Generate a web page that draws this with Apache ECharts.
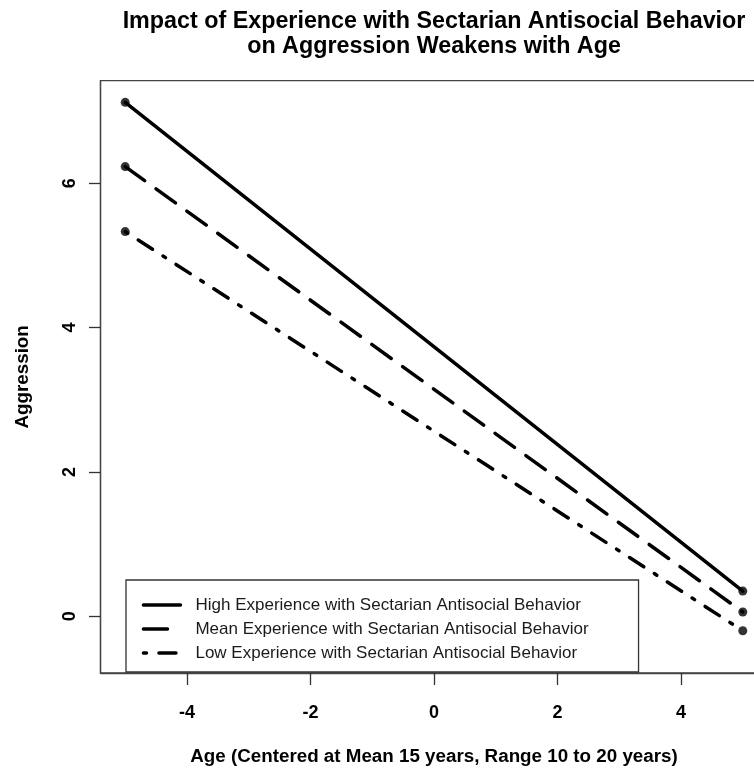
<!DOCTYPE html>
<html>
<head>
<meta charset="utf-8">
<script src="https://cdn.jsdelivr.net/npm/echarts@6/dist/echarts.min.js"></script>
<style>html,body{margin:0;padding:0;background:#fff;overflow:hidden;width:754px;height:771px;}#chart{width:772px;height:771px;}</style>
</head>
<body>
<div id="chart"></div>
<script>
const xValues = [-5, 5];
const highValues = [7.12, 0.35];
const meanValues = [6.23, 0.06];
const lowValues = [5.33, -0.20];
const seriesNames = [
  'High Experience with Sectarian Antisocial Behavior',
  'Mean Experience with Sectarian Antisocial Behavior',
  'Low Experience with Sectarian Antisocial Behavior'
];
const xTickLabels = [-4, -2, 0, 2, 4];
const yTickLabels = [0, 2, 4, 6];

const FONT = 'Liberation Sans, Arial, sans-serif';
const valueSets = [highValues, meanValues, lowValues];
const dashes = ['solid', [24, 14], [3, 12.5, 17, 12.5]];

const lineSeries = valueSets.map((vals, i) => ({
  name: seriesNames[i],
  type: 'line',
  data: xValues.map((x, j) => [x, vals[j]]),
  symbol: 'none',
  silent: true,
  lineStyle: { color: '#000', width: 3.5, type: dashes[i], cap: 'round' },
  itemStyle: { color: '#000' },
  z: 3
}));
const pointSeries = valueSets.map((vals, i) => ({
  name: seriesNames[i] + ' points',
  type: 'scatter',
  data: xValues.map((x, j) => [x, vals[j]]),
  symbol: 'circle',
  symbolSize: 9,
  silent: true,
  itemStyle: { color: '#000' },
  z: 4
}));

const chart = echarts.init(document.getElementById('chart'), null, { renderer: 'canvas' });
chart.setOption({
  animation: false,
  backgroundColor: '#fff',
  title: {
    text: 'Impact of Experience with Sectarian Antisocial Behavior\non Aggression Weakens with Age',
    left: 434, top: 9, padding: 0,
    textAlign: 'center',
    textStyle: { fontFamily: FONT, fontWeight: 'bold', fontSize: 23.3, lineHeight: 25, color: '#000' }
  },
  grid: {
    left: 100.5, top: 80.7, width: 667, height: 592.8,
    show: true, borderColor: '#444', borderWidth: 1.3, backgroundColor: 'transparent'
  },
  legend: {
    data: seriesNames,
    orient: 'vertical',
    left: 126, top: 580,
    padding: [13, 50, 7, 15.7],
    itemGap: 0,
    itemWidth: 37, itemHeight: 14,
    borderColor: '#333', borderWidth: 1.3,
    backgroundColor: '#fff',
    selectedMode: false,
    itemStyle: { opacity: 0 },
    lineStyle: { width: 3.5, cap: 'round' },
    textStyle: { fontFamily: FONT, fontSize: 17, lineHeight: 24, color: '#1a1a1a', padding: [0, 0, 0, 10] }
  },
  xAxis: {
    type: 'value', min: -5.4, max: 5.4,
    name: 'Age (Centered at Mean 15 years, Range 10 to 20 years)',
    nameLocation: 'middle', nameGap: 74,
    nameTextStyle: { fontFamily: FONT, fontWeight: 'bold', fontSize: 18.8, color: '#000' },
    axisLine: { show: true, onZero: false, lineStyle: { color: '#444', width: 1.3 } },
    splitLine: { show: false },
    axisTick: { show: true, length: 12, customValues: xTickLabels, lineStyle: { color: '#333', width: 1.3 } },
    axisLabel: { customValues: xTickLabels, margin: 31, fontFamily: FONT, fontWeight: 'bold', fontSize: 18, color: '#000' }
  },
  yAxis: {
    type: 'value', min: -0.785, max: 7.42,
    name: 'Aggression',
    nameLocation: 'middle', nameGap: 68, nameRotate: 90,
    nameTextStyle: { fontFamily: FONT, fontWeight: 'bold', fontSize: 18.8, color: '#000' },
    axisLine: { show: true, onZero: false, lineStyle: { color: '#444', width: 1.3 } },
    splitLine: { show: false },
    axisTick: { show: true, length: 11.5, customValues: yTickLabels, lineStyle: { color: '#333', width: 1.3 } },
    axisLabel: { customValues: yTickLabels, rotate: 90, margin: 21, fontFamily: FONT, fontWeight: 'bold', fontSize: 18, color: '#000' }
  },
  series: lineSeries.concat(pointSeries)
});
</script>
</body>
</html>
